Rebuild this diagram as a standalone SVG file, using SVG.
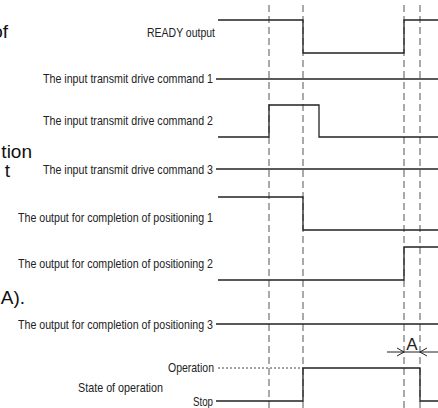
<svg xmlns="http://www.w3.org/2000/svg" width="438" height="408" viewBox="0 0 438 408">
<style>
.bg{fill:#fff}
.frag{font-family:"Liberation Sans",Arial,sans-serif;font-size:19px;fill:#111;text-anchor:end}
.lbl{font-family:"Liberation Sans",Arial,sans-serif;font-size:13px;fill:#222;text-anchor:end}
.sig{fill:none;stroke:#222;stroke-width:1.3}
.dot{fill:none;stroke:#444;stroke-width:1;stroke-dasharray:2 2}
.grid{fill:none;stroke:#555;stroke-width:1;stroke-dasharray:7 4}
.dim{fill:none;stroke:#222;stroke-width:1}
</style>
<rect class="bg" x="0" y="0" width="438" height="408"/>
<g id="fragments">
<text class="frag" x="8" y="38">of</text>
<text class="frag" x="32" y="158">tion</text>
<text class="frag" x="10" y="177">t</text>
<text class="frag" x="25" y="304">A).</text>
</g>
<g id="grid-lines">
<line class="grid" x1="269" y1="5" x2="269" y2="408"/>
<line class="grid" x1="303" y1="5" x2="303" y2="408"/>
<line class="grid" x1="404" y1="5" x2="404" y2="408"/>
<line class="grid" x1="420" y1="5" x2="420" y2="408"/>
</g>
<g id="ready">
<text class="lbl" x="215" y="37" textLength="68" lengthAdjust="spacingAndGlyphs">READY output</text>
</g>
<g id="cmd1">
<text class="lbl" x="213" y="83" textLength="170" lengthAdjust="spacingAndGlyphs">The input transmit drive command 1</text>
</g>
<g id="cmd2">
<text class="lbl" x="213" y="125" textLength="170" lengthAdjust="spacingAndGlyphs">The input transmit drive command 2</text>
</g>
<g id="cmd3">
<text class="lbl" x="213" y="174" textLength="170" lengthAdjust="spacingAndGlyphs">The input transmit drive command 3</text>
</g>
<g id="pos1">
<text class="lbl" x="213" y="222" textLength="195" lengthAdjust="spacingAndGlyphs">The output for completion of positioning 1</text>
</g>
<g id="pos2">
<text class="lbl" x="213" y="268" textLength="195" lengthAdjust="spacingAndGlyphs">The output for completion of positioning 2</text>
</g>
<g id="pos3">
<text class="lbl" x="213" y="329" textLength="195" lengthAdjust="spacingAndGlyphs">The output for completion of positioning 3</text>
</g>
<g id="state">
<text class="lbl" x="214" y="372" textLength="46" lengthAdjust="spacingAndGlyphs">Operation</text>
<text class="lbl" x="213" y="406" textLength="20" lengthAdjust="spacingAndGlyphs">Stop</text>
<text class="lbl" x="163" y="392" textLength="85" lengthAdjust="spacingAndGlyphs">State of operation</text>
</g>
<g id="connectors">
<polyline class="sig" points="218,20 303,20 303,53 404,53 404,20 438,20"/>
<line class="sig" x1="216" y1="79" x2="438" y2="79"/>
<polyline class="sig" points="218,137 269,137 269,105 319,105 319,137 438,137"/>
<line class="sig" x1="216" y1="169" x2="438" y2="169"/>
<polyline class="sig" points="218,197 303,197 303,230 438,230"/>
<polyline class="sig" points="218,280 404,280 404,247 438,247"/>
<line class="sig" x1="216" y1="324" x2="438" y2="324"/>
<line class="dot" x1="218" y1="368" x2="303" y2="368"/>
<polyline class="sig" points="216,401 303,401 303,368 420,368 420,401 438,401"/>
<line class="dim" x1="387" y1="352" x2="438" y2="352"/>
<polyline class="dim" points="397,348 404,352 397,356"/>
<polyline class="dim" points="427,348 420,352 427,356"/>
</g>
<g id="dimA">
<text x="412" y="350" font-family="'Liberation Sans',Arial,sans-serif" font-size="17" fill="#222" text-anchor="middle">A</text>
</g>
</svg>
